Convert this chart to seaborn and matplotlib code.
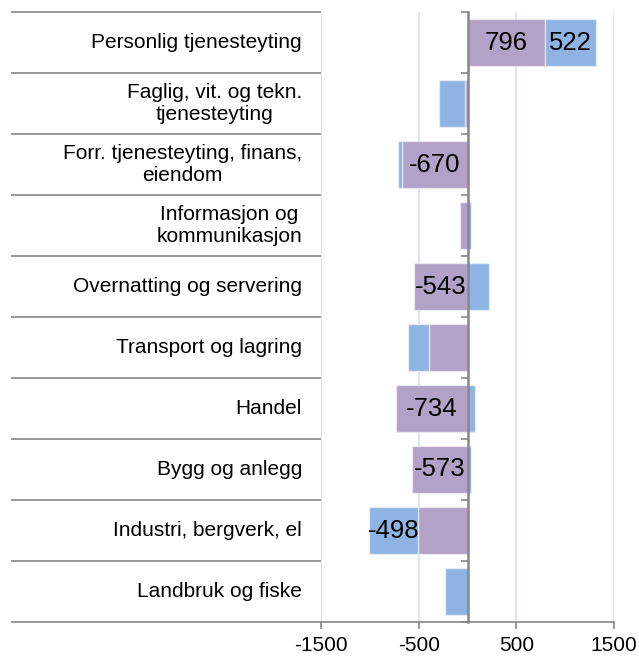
import matplotlib
matplotlib.use("Agg")
import matplotlib.pyplot as plt
import matplotlib.transforms as mtransforms
import numpy as np
import pandas as pd
import seaborn as sns

categories = [
    "Personlig tjenesteyting",
    "Faglig, vit. og tekn.\ntjenesteyting",
    "Forr. tjenesteyting, finans,\neiendom",
    "Informasjon og\nkommunikasjon",
    "Overnatting og servering",
    "Transport og lagring",
    "Handel",
    "Bygg og anlegg",
    "Industri, bergverk, el",
    "Landbruk og fiske",
]
purple = [796, -25, -670, -75, -543, -392, -734, -573, -508, 0]
blue = [522, -268, -38, 40, 225, -214, 80, 31, -498, -228]
purple_labels = ["796", "", "-670", "", "-543", "", "-734", "-573", "", ""]
blue_labels = ["522", "", "", "", "", "", "", "", "-498", ""]
xticks = [-1500, -500, 500, 1500]

PURPLE = "#b3a2c7"
BLUE = "#8eb4e3"
GRAY = "#868686"
GRID = "#d7e2f3"

sns.set_style("white")
plt.rcParams["font.family"] = ["Liberation Sans", "DejaVu Sans"]
plt.rcParams["axes.unicode_minus"] = False
plt.rcParams["text.color"] = "black"
plt.rcParams["xtick.labelcolor"] = "black"

# blue stacks on top of purple when both have the same sign, else starts at 0
purple_arr = np.array(purple)
blue_arr = np.array(blue)
blue_left = np.where(np.sign(blue_arr) == np.sign(purple_arr), purple_arr, 0)

df = pd.DataFrame({"cat": categories, "purple": purple, "blue": blue})

fig = plt.figure(figsize=(6.39, 6.57), dpi=100)
ax = fig.add_axes([321 / 639, 35 / 657, 293 / 639, 610 / 657])

bar_kw = dict(width=0.77, errorbar=None, saturation=1, edgecolor=(1, 1, 1, 0.5),
              linewidth=1, ax=ax)
sns.barplot(data=df, x="purple", y="cat", color=PURPLE, **bar_kw)
sns.barplot(data=df, x="blue", y="cat", color=BLUE, left=blue_left, **bar_kw)

ax.set_xlim(-1500, 1500)
ax.set_ylim(len(categories) - 0.5, -0.5)
ax.set_xlabel("")
ax.set_ylabel("")

ax.set_axisbelow(True)
ax.set_xticks(xticks)
ax.set_xticklabels([str(t) for t in xticks])
ax.grid(axis="x", color=GRID, linewidth=1.2)
ax.grid(axis="y", visible=False)

for s in ["top", "right"]:
    ax.spines[s].set_visible(False)
ax.spines["left"].set_position(("data", 0))
ax.spines["left"].set_color(GRAY)
ax.spines["left"].set_linewidth(1.8)
ax.spines["bottom"].set_color(GRAY)
ax.spines["bottom"].set_linewidth(1.2)

bounds = np.arange(-0.5, len(categories), 1)
ax.set_yticks(bounds)
ax.set_yticklabels([])
ax.tick_params(axis="y", left=True, direction="out", length=5, width=1.2, color=GRAY)
ax.tick_params(axis="x", bottom=True, direction="out", length=5, width=1.2, color=GRAY,
               labelsize=15, pad=5, labelcolor="black")

# category table on the left
trans = mtransforms.blended_transform_factory(ax.transAxes, ax.transData)
for b in bounds:
    ax.plot([-1.058, 0], [b, b], transform=trans, color=GRAY, linewidth=1.2,
            clip_on=False, solid_capstyle="butt")
for i, cat in enumerate(categories):
    ax.text(-0.065, i, cat, transform=trans, ha="right", va="center",
            multialignment="center", fontsize=15, linespacing=1.2)

# value labels
for i in range(len(categories)):
    if purple_labels[i]:
        ax.text(purple[i] / 2, i, purple_labels[i], ha="center", va="center", fontsize=18.5)
    if blue_labels[i]:
        ax.text(blue_left[i] + blue[i] / 2, i, blue_labels[i], ha="center", va="center",
                fontsize=18.5)

fig.savefig("out.png", dpi=100)
